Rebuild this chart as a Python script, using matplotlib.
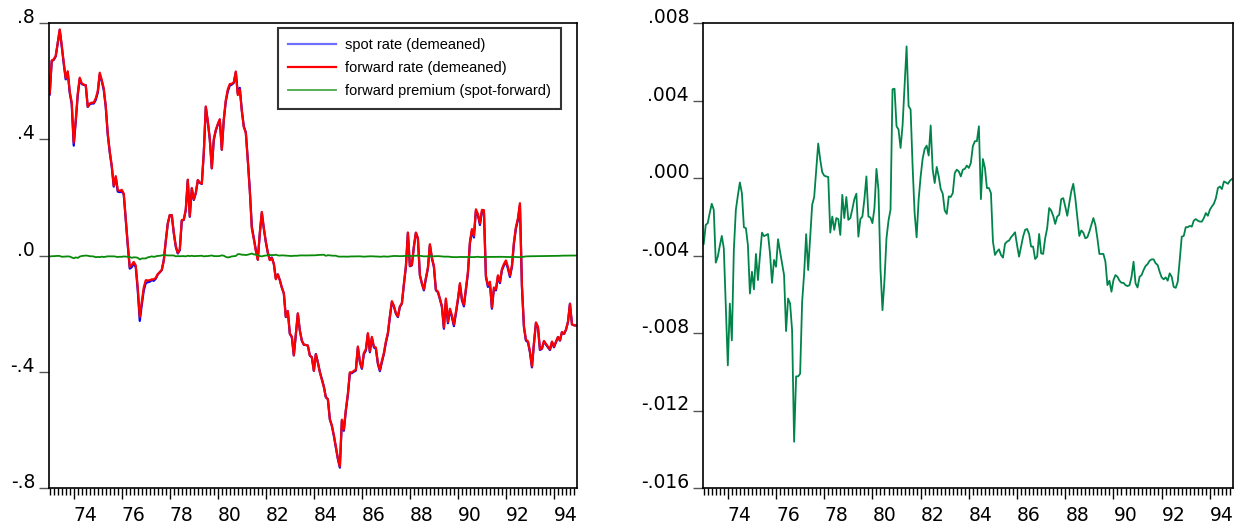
import numpy as np
import matplotlib.pyplot as plt
from matplotlib.ticker import FixedLocator, MultipleLocator

plt.rcParams['font.family'] = ['Liberation Sans', 'DejaVu Sans']

# monthly observations, 1973:01 - 1994:12
spot = [
    0.554, 0.669, 0.673, 0.685, 0.730, 0.776, 0.720, 0.660, 0.606, 0.631,
    0.560, 0.520, 0.378, 0.460, 0.550, 0.608, 0.590, 0.587, 0.586, 0.511,
    0.520, 0.523, 0.523, 0.535, 0.560, 0.623, 0.600, 0.570, 0.511, 0.416,
    0.355, 0.306, 0.237, 0.269, 0.220, 0.218, 0.221, 0.210, 0.122, 0.035,
    -0.045, -0.040, -0.028, -0.040, -0.120, -0.225, -0.170, -0.120, -0.095, -0.092,
    -0.090, -0.085, -0.087, -0.080, -0.065, -0.058, -0.050, -0.016, 0.050, 0.110,
    0.139, 0.139, 0.078, 0.030, 0.007, 0.018, 0.120, 0.122, 0.156, 0.260,
    0.133, 0.231, 0.191, 0.214, 0.258, 0.250, 0.246, 0.352, 0.511, 0.460,
    0.400, 0.300, 0.398, 0.430, 0.450, 0.467, 0.364, 0.467, 0.530, 0.565,
    0.585, 0.588, 0.594, 0.631, 0.557, 0.577, 0.500, 0.444, 0.424, 0.329,
    0.226, 0.100, 0.060, 0.020, -0.014, 0.076, 0.147, 0.093, 0.047, 0.010,
    -0.014, -0.007, -0.028, -0.079, -0.065, -0.085, -0.110, -0.130, -0.212, -0.192,
    -0.270, -0.281, -0.344, -0.270, -0.200, -0.258, -0.293, -0.307, -0.308, -0.310,
    -0.344, -0.350, -0.396, -0.339, -0.367, -0.400, -0.425, -0.450, -0.488, -0.494,
    -0.563, -0.586, -0.620, -0.660, -0.700, -0.730, -0.569, -0.603, -0.534, -0.480,
    -0.405, -0.405, -0.400, -0.396, -0.316, -0.367, -0.390, -0.339, -0.327, -0.270,
    -0.333, -0.283, -0.316, -0.321, -0.373, -0.398, -0.367, -0.339, -0.300, -0.270,
    -0.212, -0.160, -0.175, -0.200, -0.212, -0.177, -0.166, -0.100, -0.039, 0.078,
    -0.037, -0.034, 0.030, 0.078, 0.059, -0.068, -0.097, -0.120, -0.080, -0.045,
    0.036, -0.010, -0.039, -0.120, -0.126, -0.150, -0.177, -0.252, -0.152, -0.233,
    -0.187, -0.212, -0.243, -0.200, -0.154, -0.100, -0.154, -0.175, -0.120, -0.062,
    0.041, 0.085, 0.062, 0.154, 0.139, 0.105, 0.151, 0.151, -0.074, -0.108,
    -0.095, -0.183, -0.114, -0.120, -0.072, -0.095, -0.051, -0.034, -0.022, -0.045,
    -0.074, -0.039, 0.041, 0.093, 0.122, 0.174, -0.108, -0.247, -0.293, -0.298,
    -0.333, -0.385, -0.304, -0.233, -0.247, -0.325, -0.321, -0.296, -0.306, -0.316,
    -0.325, -0.298, -0.316, -0.298, -0.281, -0.293, -0.264, -0.270, -0.256, -0.229,
    -0.166, -0.237, -0.240, -0.241,
]

forward = [
    0.557, 0.671, 0.675, 0.687, 0.731, 0.778, 0.724, 0.664, 0.610, 0.634,
    0.564, 0.527, 0.388, 0.466, 0.558, 0.612, 0.592, 0.588, 0.586, 0.512,
    0.523, 0.526, 0.526, 0.541, 0.565, 0.629, 0.604, 0.575, 0.515, 0.419,
    0.358, 0.309, 0.240, 0.273, 0.225, 0.222, 0.226, 0.213, 0.126, 0.039,
    -0.040, -0.032, -0.022, -0.034, -0.112, -0.211, -0.160, -0.110, -0.085, -0.086,
    -0.085, -0.082, -0.082, -0.077, -0.064, -0.057, -0.050, -0.018, 0.049, 0.110,
    0.139, 0.139, 0.078, 0.033, 0.009, 0.021, 0.122, 0.124, 0.159, 0.261,
    0.135, 0.232, 0.193, 0.216, 0.260, 0.251, 0.247, 0.355, 0.513, 0.462,
    0.401, 0.300, 0.400, 0.432, 0.452, 0.469, 0.364, 0.468, 0.535, 0.572,
    0.590, 0.591, 0.596, 0.633, 0.552, 0.572, 0.497, 0.442, 0.422, 0.326,
    0.221, 0.093, 0.056, 0.016, -0.015, 0.078, 0.150, 0.094, 0.047, 0.009,
    -0.016, -0.009, -0.029, -0.082, -0.065, -0.085, -0.111, -0.130, -0.211, -0.191,
    -0.268, -0.279, -0.343, -0.269, -0.199, -0.258, -0.293, -0.307, -0.308, -0.310,
    -0.344, -0.351, -0.397, -0.340, -0.369, -0.402, -0.427, -0.453, -0.487, -0.495,
    -0.564, -0.585, -0.619, -0.659, -0.697, -0.726, -0.565, -0.599, -0.530, -0.476,
    -0.402, -0.402, -0.397, -0.393, -0.313, -0.364, -0.387, -0.335, -0.323, -0.267,
    -0.330, -0.280, -0.313, -0.317, -0.369, -0.394, -0.363, -0.336, -0.296, -0.266,
    -0.209, -0.157, -0.173, -0.198, -0.210, -0.175, -0.164, -0.098, -0.038, 0.079,
    -0.036, -0.032, 0.031, 0.079, 0.059, -0.067, -0.095, -0.117, -0.077, -0.042,
    0.039, -0.007, -0.036, -0.118, -0.124, -0.148, -0.174, -0.248, -0.148, -0.229,
    -0.183, -0.206, -0.238, -0.194, -0.149, -0.095, -0.149, -0.170, -0.115, -0.057,
    0.047, 0.091, 0.068, 0.159, 0.143, 0.110, 0.157, 0.156, -0.069, -0.103,
    -0.090, -0.179, -0.110, -0.116, -0.068, -0.091, -0.047, -0.029, -0.017, -0.040,
    -0.069, -0.034, 0.046, 0.098, 0.128, 0.180, -0.103, -0.243, -0.290, -0.295,
    -0.330, -0.382, -0.302, -0.230, -0.245, -0.323, -0.319, -0.294, -0.304, -0.314,
    -0.323, -0.296, -0.314, -0.297, -0.280, -0.292, -0.263, -0.270, -0.255, -0.229,
    -0.166, -0.237, -0.240, -0.241,
]

premium = [
    -0.00340, -0.00242, -0.00233, -0.00180, -0.00133, -0.00164, -0.00437, -0.00406, -0.00350, -0.00299,
    -0.00363, -0.00660, -0.00967, -0.00648, -0.00838, -0.00370, -0.00164, -0.00090, -0.00023, -0.00078,
    -0.00254, -0.00259, -0.00346, -0.00596, -0.00484, -0.00575, -0.00392, -0.00527, -0.00400, -0.00282,
    -0.00300, -0.00295, -0.00289, -0.00389, -0.00541, -0.00423, -0.00458, -0.00316, -0.00380, -0.00440,
    -0.00501, -0.00790, -0.00622, -0.00648, -0.00786, -0.01361, -0.01024, -0.01024, -0.01010, -0.00639,
    -0.00492, -0.00290, -0.00475, -0.00303, -0.00138, -0.00098, 0.00040, 0.00178, 0.00095, 0.00030,
    0.00012, 0.00008, 0.00005, -0.00282, -0.00199, -0.00268, -0.00207, -0.00212, -0.00294, -0.00087,
    -0.00207, -0.00098, -0.00216, -0.00207, -0.00160, -0.00109, -0.00081, -0.00303, -0.00212, -0.00199,
    -0.00109, 0.00008, -0.00199, -0.00204, -0.00233, -0.00155, 0.00047, -0.00061, -0.00470, -0.00682,
    -0.00527, -0.00310, -0.00220, -0.00164, 0.00458, 0.00461, 0.00267, 0.00250, 0.00155, 0.00271,
    0.00480, 0.00679, 0.00371, 0.00354, 0.00060, -0.00180, -0.00306, -0.00112, 0.00008, 0.00100,
    0.00150, 0.00167, 0.00116, 0.00271, 0.00043, -0.00026, 0.00057, 0.00008, -0.00057, -0.00081,
    -0.00168, -0.00185, -0.00095, -0.00098, -0.00078, 0.00026, 0.00043, 0.00034, 0.00008, 0.00043,
    0.00047, 0.00064, 0.00052, 0.00078, 0.00164, 0.00190, 0.00190, 0.00267, -0.00109, 0.00098,
    0.00052, -0.00052, -0.00052, -0.00078, -0.00328, -0.00397, -0.00380, -0.00368, -0.00397, -0.00411,
    -0.00340, -0.00328, -0.00323, -0.00306, -0.00294, -0.00280, -0.00346, -0.00406, -0.00354, -0.00303,
    -0.00268, -0.00263, -0.00289, -0.00354, -0.00354, -0.00418, -0.00406, -0.00289, -0.00389, -0.00392,
    -0.00311, -0.00259, -0.00155, -0.00168, -0.00195, -0.00237, -0.00199, -0.00190, -0.00109, -0.00104,
    -0.00147, -0.00195, -0.00130, -0.00069, -0.00030, -0.00104, -0.00199, -0.00299, -0.00271, -0.00282,
    -0.00311, -0.00306, -0.00277, -0.00242, -0.00207, -0.00242, -0.00311, -0.00392, -0.00392, -0.00392,
    -0.00432, -0.00553, -0.00530, -0.00587, -0.00527, -0.00501, -0.00510, -0.00530, -0.00541, -0.00541,
    -0.00553, -0.00558, -0.00553, -0.00510, -0.00432, -0.00544, -0.00565, -0.00510, -0.00501, -0.00475,
    -0.00454, -0.00444, -0.00427, -0.00420, -0.00420, -0.00440, -0.00449, -0.00484, -0.00513, -0.00523,
    -0.00513, -0.00530, -0.00492, -0.00510, -0.00562, -0.00567, -0.00536, -0.00423, -0.00303, -0.00299,
    -0.00254, -0.00254, -0.00247, -0.00251, -0.00220, -0.00212, -0.00220, -0.00225, -0.00225, -0.00207,
    -0.00181, -0.00195, -0.00164, -0.00147, -0.00133, -0.00104, -0.00052, -0.00044, -0.00057, -0.00018,
    -0.00023, -0.00030, -0.00014, -0.00005,
]

t = 1973 + np.arange(len(spot)) / 12.0

left_ticks = [-0.8, -0.4, 0.0, 0.4, 0.8]
left_labels = ['-.8', '-.4', '.0', '.4', '.8']
right_ticks = [-0.016, -0.012, -0.008, -0.004, 0.0, 0.004, 0.008]
right_labels = ['-.016', '-.012', '-.008', '-.004', '.000', '.004', '.008']
year_ticks = list(range(1974, 1995, 2))
year_labels = ['74', '76', '78', '80', '82', '84', '86', '88', '90', '92', '94']

W, H = 1251, 529
fig = plt.figure(figsize=(W / 100, H / 100), dpi=100)
ax1 = fig.add_axes([49 / W, 1 - 488 / H, 528 / W, 465 / H])
ax2 = fig.add_axes([703 / W, 1 - 488 / H, 530 / W, 465 / H])

tick_font = dict(family='DejaVu Sans', size=13.5)


def style(ax, yt, yl):
    ax.set_xlim(1972.97, 1994.96)
    ax.set_yticks(yt)
    ax.set_yticklabels(yl, **tick_font)
    for lab in ax.get_yticklabels():
        lab.set_va('baseline')
    ax.xaxis.set_major_locator(FixedLocator(year_ticks))
    ax.set_xticklabels(year_labels, ha='left', **tick_font)
    ax.xaxis.set_minor_locator(MultipleLocator(1 / 6))
    ax.tick_params(axis='y', direction='out', length=7, width=1, pad=3, color='#555555')
    ax.tick_params(axis='x', which='major', direction='out', length=8, width=1, pad=5)
    ax.tick_params(axis='x', which='minor', direction='out', length=5, width=1)
    for s in ax.spines.values():
        s.set_linewidth(1.2)


ax1.plot(t, spot, color='blue', lw=1.6, label='spot rate (demeaned)')
ax1.plot(t, forward, color='red', lw=1.6, label='forward rate (demeaned)')
ax1.plot(t, premium, color='#0a8a0a', lw=1.3, label='forward premium (spot-forward)')
ax1.set_ylim(-0.8, 0.8)
style(ax1, left_ticks, left_labels)
leg = ax1.legend(loc='upper left', bbox_to_anchor=(0.434, 0.989), borderaxespad=0,
                 fontsize=10.5, frameon=True, fancybox=False, edgecolor='black',
                 handlelength=3.3, handletextpad=0.6, labelspacing=0.62, borderpad=0.7)
leg.get_frame().set_linewidth(1.5)
leg.legend_handles[0].set_color('#7070ff')
leg.legend_handles[2].set_color('#4aa84a')

ax2.plot(t, premium, color='#00844a', lw=1.3)
ax2.set_ylim(-0.016, 0.008)
style(ax2, right_ticks, right_labels)

fig.savefig('out.png', dpi=100)
